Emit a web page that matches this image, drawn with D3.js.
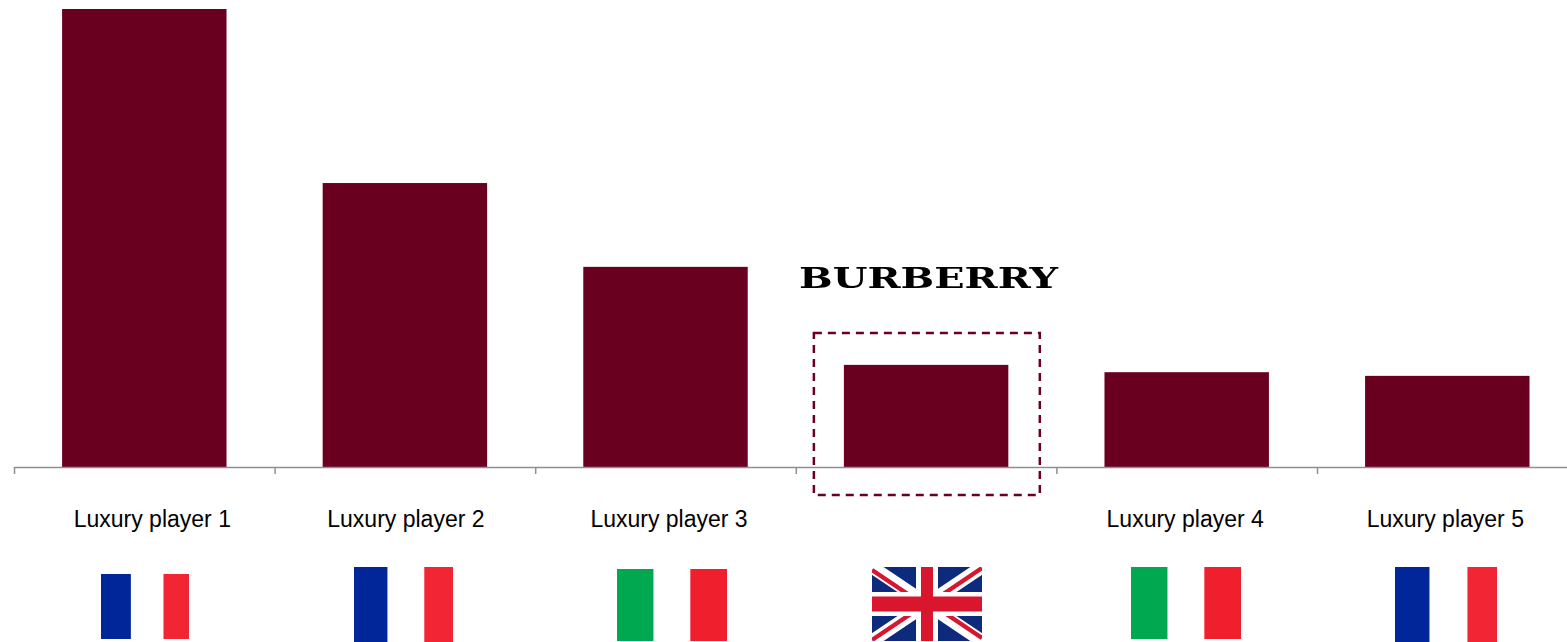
<!DOCTYPE html>
<html>
<head>
<meta charset="utf-8">
<script src="https://cdn.jsdelivr.net/npm/d3@7/dist/d3.min.js"></script>
<style>
  html, body { margin: 0; padding: 0; background: #fff; overflow: hidden; }
  svg { display: block; }
  text { font-family: "Liberation Sans", Arial, sans-serif; }
</style>
</head>
<body>
<svg id="chart" width="1567" height="642"></svg>
<script>
// Relative size of each luxury player, largest = 100
const players = ["Luxury player 1", "Luxury player 2", "Luxury player 3", "Burberry", "Luxury player 4", "Luxury player 5"];
const sizes = [100, 62, 43.7, 22.3, 20.7, 19.9];
const countries = ["France", "France", "Italy", "UK", "Italy", "France"];

// Layout constants
const baselineY = 467, topY = 9;
const labelShift = [8, 1, 3.5, 0, -1.5, -2];
const flagBoxes = [
  [101, 574, 88, 65], [354, 567, 99, 75], [617, 569, 110, 72],
  [872, 567, 110, 74], [1131, 567, 110, 72], [1395, 567, 102, 75]
];
const barColor = "#690020";

const svg = d3.select("#chart");
const defs = svg.append("defs");
defs.append("filter").attr("id", "soft").append("feGaussianBlur").attr("stdDeviation", 0.5);

const x = d3.scaleBand().domain(players).range([14, 14 + 260.6 * players.length]).paddingInner(0.369).paddingOuter(0.1845);
const y = d3.scaleLinear().domain([0, 100]).range([baselineY, topY]);
const edges = d3.scaleLinear().domain([0, players.length]).range([14, 14 + 260.6 * players.length]);

// Bars
svg.append("g").selectAll("rect").data(players).join("rect")
  .attr("x", d => x(d))
  .attr("width", x.bandwidth())
  .attr("y", (d, i) => y(sizes[i]))
  .attr("height", (d, i) => y(0) - y(sizes[i]))
  .attr("fill", barColor);

// Category axis with ticks between the bars
const axis = svg.append("g")
  .attr("transform", `translate(0,${baselineY})`)
  .call(d3.axisBottom(edges).tickValues(d3.range(players.length + 1)).tickSize(7).tickSizeOuter(0).tickFormat(""));
axis.selectAll("path, line").attr("stroke", "#8f8f8f").attr("stroke-width", 1.5);

// Player names; Burberry is shown by its wordmark instead
svg.append("g").selectAll("text").data(players.filter(d => d !== "Burberry")).join("text")
  .attr("x", d => x(d) + x.bandwidth() / 2 + labelShift[players.indexOf(d)])
  .attr("y", 527)
  .attr("text-anchor", "middle")
  .attr("font-size", 23)
  .attr("fill", "#000")
  .text(d => d);

// Highlight around the Burberry bar
const bx = x("Burberry");
svg.append("rect")
  .attr("x", bx - 30).attr("y", 333)
  .attr("width", x.bandwidth() + 61.5).attr("height", 162)
  .attr("fill", "none").attr("stroke", barColor)
  .attr("stroke-width", 2.5).attr("stroke-dasharray", "8 6");

// Wordmark
svg.append("text")
  .attr("x", 799).attr("y", 287.5)
  .attr("textLength", 259).attr("lengthAdjust", "spacingAndGlyphs")
  .attr("filter", "url(#soft)")
  .attr("font-size", 27.5).attr("font-weight", "bold")
  .style("font-family", "'DejaVu Serif', serif")
  .attr("fill", "#000")
  .text("BURBERRY");

// Flags
function tricolour(g, w, h, colours, shares) {
  const cuts = d3.cumsum(shares);
  const across = d3.scaleLinear().domain([0, cuts[2]]).range([0, w]);
  g.selectAll("rect").data(colours).join("rect")
    .attr("x", (c, i) => across(i ? cuts[i - 1] : 0))
    .attr("width", (c, i) => across(cuts[i]) - across(i ? cuts[i - 1] : 0))
    .attr("height", h)
    .attr("fill", c => c);
}
function unionFlag(g, w, h, id) {
  defs.append("clipPath").attr("id", id).append("rect").attr("width", w).attr("height", h);
  const f = g.append("g").attr("clip-path", `url(#${id})`).append("g").attr("filter", "url(#soft)");
  const blue = "#0b2a7c", red = "#d9122f";
  f.append("rect").attr("x", -3).attr("y", -3).attr("width", w + 6).attr("height", h + 6).attr("fill", blue);
  const diag = (a, b, col, sw) => f.append("line")
    .attr("x1", a[0]).attr("y1", a[1]).attr("x2", b[0]).attr("y2", b[1])
    .attr("stroke", col).attr("stroke-width", sw);
  diag([0, 0], [w, h], "#fff", 13);
  diag([0, h], [w, 0], "#fff", 13);
  diag([0, 3], [w / 2, h / 2 + 3], red, 4.5);
  diag([w, h - 3], [w / 2, h / 2 - 3], red, 4.5);
  diag([0, h - 1], [w / 2, h / 2 - 1], red, 4.5);
  diag([w, 1], [w / 2, h / 2 + 1], red, 4.5);
  f.append("rect").attr("x", w / 2 - 11).attr("width", 22).attr("height", h).attr("fill", "#fff");
  f.append("rect").attr("y", h / 2 - 12).attr("width", w).attr("height", 24).attr("fill", "#fff");
  f.append("rect").attr("x", w / 2 - 6).attr("width", 12).attr("height", h).attr("fill", red);
  f.append("rect").attr("y", h / 2 - 7.5).attr("width", w).attr("height", 15).attr("fill", red);
}
const flagColours = {
  France: ["#00269a", "#ffffff", "#f22535"],
  Italy: ["#00a94f", "#ffffff", "#ef1f2d"]
};
const flagShares = { France: [34, 37, 29], Italy: [1, 1, 1] };
countries.forEach((c, i) => {
  const [fx, fy, fw, fh] = flagBoxes[i];
  const g = svg.append("g").attr("transform", `translate(${fx},${fy})`);
  if (c === "UK") unionFlag(g, fw, fh, "uk-clip");
  else tricolour(g, fw, fh, flagColours[c], flagShares[c]);
});
</script>
</body>
</html>
